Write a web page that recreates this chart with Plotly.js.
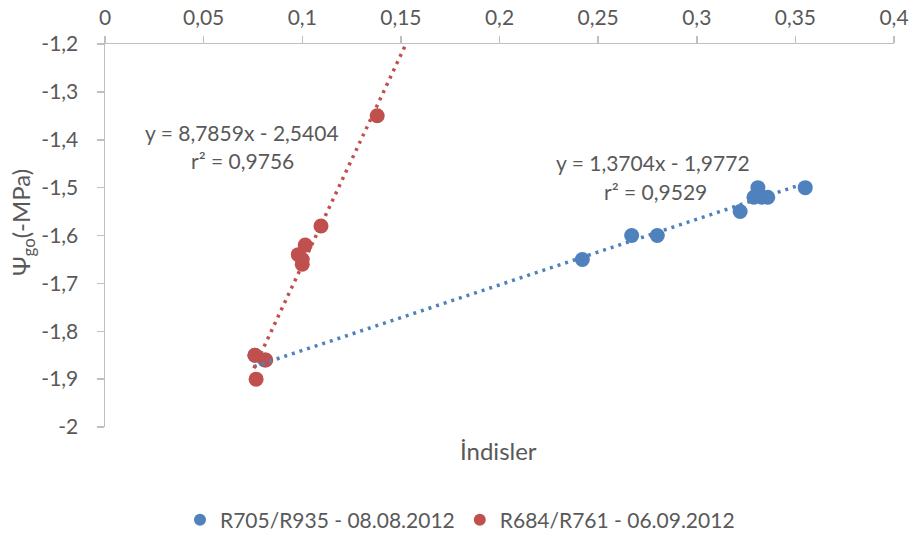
<!DOCTYPE html>
<html><head><meta charset="utf-8">
<script src="https://cdn.plot.ly/plotly-3.0.1.min.js"></script>
<style>body{margin:0;background:#fff}#c{width:909px;height:537px}</style>
</head><body><div id="c"></div>
<script>
const blueName = "R705/R935 - 08.08.2012";
const redName = "R684/R761 - 06.09.2012";
const blueX = [0.355, 0.331, 0.329, 0.333, 0.336, 0.322, 0.280, 0.267, 0.242, 0.081, 0.076];
const blueY = [-1.50, -1.50, -1.52, -1.52, -1.52, -1.55, -1.60, -1.60, -1.65, -1.86, -1.85];
const redX = [0.138, 0.1095, 0.1015, 0.098, 0.100, 0.100, 0.076, 0.0815, 0.0766];
const redY = [-1.35, -1.58, -1.62, -1.64, -1.65, -1.66, -1.85, -1.86, -1.90];
const blueSlope = 1.3704, blueIntercept = -1.9772;
const redSlope = 8.7859, redIntercept = -2.5404;
const blueTrendX = [0.0755, 0.3565];
const redTrendX = [0.0755, 0.16];
const xTicks = [0, 0.05, 0.1, 0.15, 0.2, 0.25, 0.3, 0.35, 0.4];
const xTickText = ["0", "0,05", "0,1", "0,15", "0,2", "0,25", "0,3", "0,35", "0,4"];
const yTicks = [-2, -1.9, -1.8, -1.7, -1.6, -1.5, -1.4, -1.3, -1.2];
const yTickText = ["-2", "-1,9", "-1,8", "-1,7", "-1,6", "-1,5", "-1,4", "-1,3", "-1,2"];
const blueEq = "y = 1,3704x - 1,9772", blueR2 = "r² = 0,9529";
const redEq = "y = 8,7859x - 2,5404", redR2 = "r² = 0,9756";

const BLUE = "#4F81BD", RED = "#C0504D", TXT = "#595959", AX = "#BFBFBF";
const FONT = "Lato, 'Open Sans', sans-serif";

const traces = [
  {x: blueX, y: blueY, mode: "markers", type: "scatter", name: blueName,
   marker: {color: BLUE, size: 15}},
  {x: redX, y: redY, mode: "markers", type: "scatter", name: redName,
   marker: {color: RED, size: 15}},
  {x: blueTrendX, y: blueTrendX.map(v => blueSlope * v + blueIntercept), mode: "lines",
   type: "scatter", showlegend: false, hoverinfo: "skip",
   line: {color: BLUE, width: 3.5, dash: "3px,5px"}},
  {x: redTrendX, y: redTrendX.map(v => redSlope * v + redIntercept), mode: "lines",
   type: "scatter", showlegend: false, hoverinfo: "skip",
   line: {color: RED, width: 3.5, dash: "3px,5px"}}
];

const P = (px) => (px - 105) / 789;
const Q = (py) => (427 - py) / 383;
const ann = (text, px, py, size, extra) => Object.assign({text, xref: "paper", yref: "paper",
  x: P(px), y: Q(py), xanchor: "center", yanchor: "middle", showarrow: false,
  font: {size, color: TXT}}, extra || {});

const layout = {
  width: 909, height: 537,
  margin: {l: 105, r: 15, t: 44, b: 110, autoexpand: false},
  paper_bgcolor: "#fff", plot_bgcolor: "#fff",
  font: {family: FONT, color: TXT, size: 21},
  showlegend: true,
  legend: {orientation: "h", x: P(460), xanchor: "center", y: Q(520), yanchor: "middle",
           font: {size: 21, color: TXT}, itemsizing: "constant", traceorder: "normal",
           itemwidth: 30},
  xaxis: {side: "top", range: [0, 0.4], tickvals: xTicks, ticktext: xTickText,
          showgrid: false, zeroline: false, showline: true, linecolor: AX, linewidth: 1.5,
          ticks: "outside", ticklen: 7, tickcolor: AX, tickwidth: 1.5,
          tickfont: {size: 21, color: TXT}, ticklabelstandoff: 2},
  yaxis: {range: [-2, -1.2], tickvals: yTicks, ticktext: yTickText,
          showgrid: false, zeroline: false, showline: true, linecolor: AX, linewidth: 1.5,
          ticks: "outside", ticklen: 7, tickcolor: AX, tickwidth: 1.5,
          tickfont: {size: 21, color: TXT}, ticklabelstandoff: 14},
  annotations: [
    ann("İndisler", 498, 450, 24),
    ann("Ψ<sub>go</sub>(-MPa)", 22, 223, 24, {textangle: -90}),
    ann(redEq, 242, 132, 21),
    ann(redR2, 242, 160, 21),
    ann(blueEq, 653, 162, 21),
    ann(blueR2, 655, 191, 21)
  ]
};
Plotly.newPlot("c", traces, layout, {displayModeBar: false, staticPlot: true});
</script></body></html>
